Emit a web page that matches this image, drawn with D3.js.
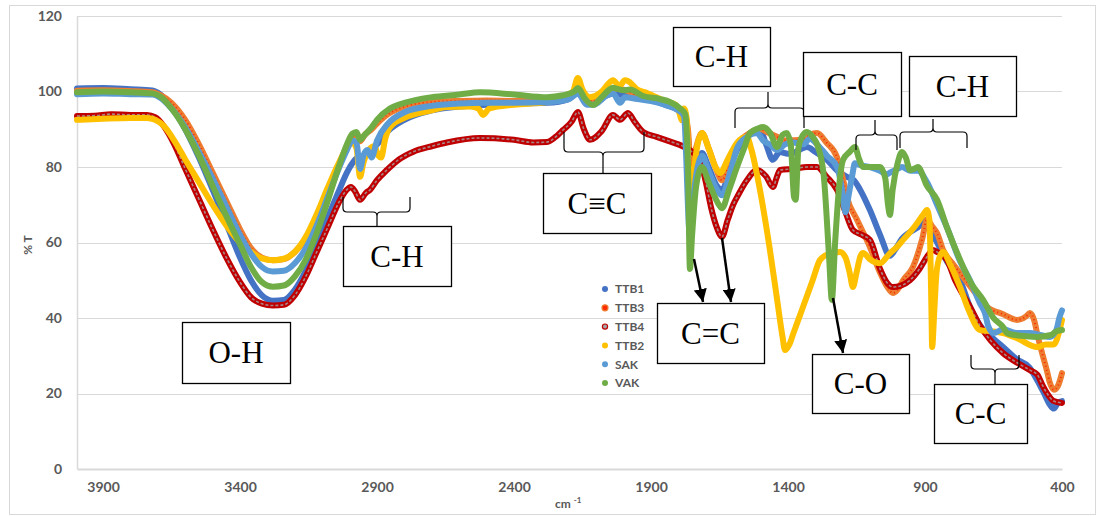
<!DOCTYPE html>
<html lang="en">
<head>
<meta charset="UTF-8">
<title>FTIR spectra</title>
<script src="https://d3js.org/d3.v7.min.js"></script>
<style>
body, html { margin: 0; padding: 0; background: #fff; overflow: hidden; }
svg { display: block; }
.tick text { font-family: Lato, "Open Sans", sans-serif; font-weight: 700; font-size: 14px; fill: #595959; }
.legend text { font-family: Lato, "Open Sans", sans-serif; font-weight: 700; font-size: 12px; fill: #595959; }
.title { font-family: Lato, "Open Sans", sans-serif; font-weight: 700; font-size: 12px; fill: #595959; }
.note text { font-family: "Liberation Serif", "DejaVu Serif", serif; font-size: 31px; fill: #000; }
</style>
</head>
<body>
<svg width="1105" height="516">
  <defs>
    <marker id="arrowhead" viewBox="0 0 10 10" refX="10" refY="5" markerWidth="13" markerHeight="13" markerUnits="userSpaceOnUse" orient="auto">
      <path d="M 0 0 L 10 5 L 0 10 z" fill="#000"/>
    </marker>
  </defs>
</svg>
<script>
// [wavenumber cm-1, %T]
const ttb1 = [
  [3995,100.8],[3900,100.9],[3800,100.6],[3720,100.3],[3690,99.2],[3650,96],[3600,90],[3550,82.5],[3500,74],[3450,65],
  [3400,56],[3360,50],[3320,46],[3280,44.6],[3240,44.8],[3200,47.5],[3160,52.5],[3120,59],[3080,66.5],[3040,73.5],
  [3010,78.5],[2990,81],[2970,82.5],[2962,80],[2950,83],[2930,84],[2900,86],[2860,89.5],[2800,92.5],[2700,95],
  [2600,96],[2500,96.5],[2400,96.8],[2280,97],[2200,98],[2167,99.5],[2134,97.5],[2110,97],[2060,99],[2039,99.5],
  [2000,99],[1950,98.5],[1900,97.8],[1850,96.5],[1800,95],[1780,93.5],[1765,88],[1755,78],[1735,80],[1714,83.7],
  [1690,80],[1660,75],[1641,73.9],[1610,80],[1586,84.5],[1564,87.2],[1530,89],[1502,89.8],[1480,86],[1455,81.9],
  [1430,84],[1400,83.5],[1382,83.7],[1331,85.3],[1300,84],[1258,81.9],[1220,79],[1185,77.4],[1160,76.5],[1137,74],
  [1101,68.6],[1064,62],[1028,56.5],[1010,58],[984,61],[960,62.5],[926,64],[893,66],[870,62],[856,60],
  [820,55],[772,50],[736,43],[688,37],[650,34.5],[615,32.3],[564,29],[520,27],[491,23.6],[465,20],
  [444,17],[430,16],[415,17.5],[400,18]
];
const ttb3 = [
  [3995,100.2],[3900,100.3],[3800,100.1],[3720,99.8],[3690,99],[3650,97],[3600,92.5],[3550,86],[3500,78.5],[3450,71],
  [3400,63.5],[3360,58.5],[3320,56],[3280,55.3],[3240,55.6],[3200,57.5],[3160,61],[3120,66.5],[3080,73.5],[3040,80.5],
  [3010,85.5],[2990,88],[2970,88.5],[2962,86.8],[2945,88.5],[2920,90],[2900,91.5],[2860,94],[2800,96],[2700,97.2],
  [2600,97.5],[2500,97.6],[2400,97.5],[2280,97.6],[2200,98.5],[2167,100.5],[2134,97.8],[2110,97.5],[2060,100],[2039,100.8],
  [2000,100.5],[1950,99],[1900,98],[1850,97],[1800,95.5],[1780,94.5],[1765,90],[1755,80],[1740,84],[1714,89],
  [1690,85],[1660,79],[1641,76.5],[1610,82],[1586,86],[1550,88.5],[1500,90],[1470,89],[1440,88],[1411,87],
  [1345,87.2],[1320,88.5],[1294,89],[1260,86.5],[1221,82.6],[1200,77],[1185,72],[1148,66],[1101,58.8],[1064,52],
  [1040,48.5],[1017,46.6],[1000,47.5],[980,50],[944,53.5],[910,61],[893,66],[871,64],[856,62.5],[834,58],
  [800,54.5],[772,51.9],[720,47],[674,43],[615,41],[564,39.5],[530,40.5],[517,41.3],[500,39],[491,36],
  [470,30],[455,26],[444,22.8],[430,21],[415,22],[400,25.4]
];
const ttb4 = [
  [3995,93.5],[3930,93.6],[3870,94],[3800,93.8],[3740,93.8],[3710,93.2],[3680,91],[3640,86],[3600,79.5],[3550,71.5],
  [3500,63.5],[3450,56],[3400,49.5],[3360,45.5],[3320,43.8],[3280,43.3],[3240,43.5],[3200,46],[3160,51],[3120,57.5],
  [3080,64],[3040,70.5],[3010,74],[2995,74.7],[2980,73.5],[2962,71.3],[2940,73.2],[2926,73.9],[2900,76.5],[2864,79.2],
  [2820,82],[2769,84],[2700,85.5],[2645,86.5],[2524,87.7],[2400,87.2],[2330,86.5],[2280,86.6],[2240,88.5],[2221,89.8],
  [2190,92],[2167,94.6],[2145,90],[2123,87.2],[2080,89.5],[2039,93.8],[2013,92.5],[1984,94.3],[1960,92],[1929,89.3],
  [1880,88],[1840,87],[1800,86],[1770,85],[1750,84],[1721,81.9],[1700,76],[1680,69],[1660,64],[1641,61.5],
  [1620,66],[1600,70],[1586,72],[1550,76.5],[1513,79.2],[1480,77.5],[1455,74.7],[1440,77.5],[1429,79.2],[1380,79.5],
  [1330,80],[1294,80],[1260,77.5],[1221,73.9],[1190,68],[1163,63.3],[1130,62],[1101,60.7],[1064,53],[1040,49.5],
  [1017,48.2],[990,48.5],[955,50],[920,53],[890,56.5],[871,58],[856,57.5],[820,55.4],[790,50],[760,46],
  [736,43],[700,38],[660,34],[615,30.7],[560,28],[517,26.2],[490,25],[470,22],[455,20.1],[430,18],[400,17.5]
];
const ttb2 = [
  [3995,92.5],[3900,92.8],[3800,93],[3740,93],[3710,92.5],[3680,91],[3640,87],[3600,82],[3550,76],[3500,70],
  [3450,64.5],[3400,60],[3360,57.5],[3320,55.8],[3280,55.3],[3240,55.7],[3200,57.5],[3160,61.5],[3120,67.5],[3080,74.5],
  [3040,81],[3010,85],[2990,86.5],[2975,85],[2962,77.4],[2950,81],[2930,84.5],[2910,85.5],[2895,83],[2885,82.5],
  [2870,87.5],[2853,90.5],[2800,93],[2700,95],[2645,95.9],[2560,96],[2530,95.5],[2513,93.8],[2490,95.5],[2400,96.5],
  [2280,97.2],[2210,99],[2185,100],[2167,103.6],[2150,100.5],[2123,98.5],[2080,100],[2050,102.5],[2039,103],[2015,101.5],
  [1995,103],[1984,102.8],[1950,100.5],[1915,99.6],[1850,97.5],[1810,96.5],[1795,94],[1788,92.4],[1780,95.5],[1770,93],
  [1758,68],[1745,78],[1730,86],[1714,89],[1690,85],[1665,80],[1648,78.4],[1620,82],[1586,86.4],[1550,88],
  [1535,85],[1500,73],[1466,58],[1440,45],[1420,35],[1411,31.5],[1395,33],[1380,36],[1345,43],[1310,50],
  [1283,55.4],[1250,57],[1210,57.5],[1190,56],[1175,52],[1163,48.2],[1150,52],[1135,56.5],[1126,57.2],[1100,55.5],
  [1064,54.5],[1030,57],[1000,59],[980,60.7],[940,64],[905,67.5],[893,68.6],[884,66],[876,40],[874,32.3],
  [866,42],[858,52],[845,56.5],[834,57.5],[810,54.5],[772,48.2],[740,42],[699,36.8],[660,36.5],[615,36],
  [560,34.5],[491,32.3],[460,33],[430,33],[410,36.5],[400,39.5]
];
const sak = [
  [3995,99.3],[3900,99.5],[3800,99.3],[3720,99.2],[3690,98.3],[3650,95.5],[3600,90.5],[3550,84],[3500,77],[3450,69.5],
  [3400,62],[3360,57],[3320,53.5],[3280,52.3],[3240,52.5],[3200,54.5],[3160,58.5],[3120,64.5],[3080,72],[3040,79.5],
  [3010,84.5],[2990,87],[2975,86.5],[2962,79.5],[2950,83],[2935,84.5],[2920,82.5],[2900,87],[2860,91.5],[2800,94.5],
  [2700,96.2],[2600,96.8],[2500,97],[2400,97],[2280,97.2],[2200,98],[2167,99.5],[2134,96.5],[2110,96.5],[2060,99],
  [2039,99.5],[2013,97],[1995,98.5],[1950,98],[1900,97.5],[1850,96.5],[1800,95],[1780,93.5],[1758,62],[1745,72],
  [1730,80],[1714,83],[1690,79],[1660,74],[1641,72.5],[1610,79],[1586,85],[1550,88],[1513,89],[1491,87],
  [1466,86],[1440,84.5],[1411,86],[1382,86.5],[1345,86],[1320,87.5],[1294,86],[1258,83],[1221,80],[1205,75],
  [1190,68],[1180,72],[1165,78],[1156,81],[1137,80.5],[1101,80],[1064,79],[1040,78],[1028,78.5],[1000,79.5],
  [984,80],[955,79],[926,79],[893,76],[856,70],[820,64],[772,55],[736,50],[700,44],[680,41],
  [670,38],[650,36],[615,37],[564,36],[517,36],[480,35.5],[444,35],[420,37],[410,40],[400,42]
];
const vak = [
  [3995,99.8],[3900,100],[3800,99.8],[3720,99.5],[3690,98.6],[3650,95.5],[3600,90],[3550,83],[3500,75],[3450,67],
  [3400,59.5],[3360,53.5],[3320,49.5],[3280,48.3],[3240,48.6],[3200,51],[3160,55.5],[3120,62.5],[3080,71],[3040,80],
  [3010,86],[2990,88.8],[2975,89.3],[2962,87.2],[2945,88.5],[2920,90.5],[2900,92.5],[2853,95.5],[2800,97],[2700,98.5],
  [2600,99.2],[2524,99.8],[2400,99.2],[2280,98.5],[2221,99],[2180,100],[2167,100.9],[2140,98],[2112,96.4],[2080,98.5],
  [2039,101],[2000,100.3],[1977,100.5],[1929,98.8],[1867,98],[1831,97.2],[1794,95.5],[1775,94],[1765,80],[1758,53],
  [1750,62],[1735,75],[1714,80],[1690,76],[1660,71],[1641,69.1],[1615,74],[1586,80],[1560,85],[1539,89],
  [1510,90.2],[1491,90.6],[1465,89],[1440,85.3],[1420,88.5],[1405,89],[1390,86],[1378,72],[1372,71.3],[1362,85],
  [1345,88.5],[1331,89.3],[1310,88],[1294,86],[1270,78],[1250,56],[1240,44.8],[1228,60],[1212,76],[1199,81.9],
  [1175,84],[1156,85.3],[1140,82],[1126,80],[1090,80],[1064,80],[1045,77],[1035,70],[1028,67.3],[1018,74],
  [1000,81],[984,84],[970,82.5],[955,79.2],[940,79.5],[926,80],[893,75],[856,71.3],[820,64],[772,55.4],
  [730,49],[688,44.8],[650,40],[615,37.6],[601,36],[550,35.3],[491,35],[440,35.5],[420,36.5],[400,36.8]
];

const seriesNames = ["TTB1", "TTB3", "TTB4", "TTB2", "SAK", "VAK"];
const seriesData = [ttb1, ttb3, ttb4, ttb2, sak, vak];
const seriesColors = ["#4472C4", "#ED7D31", "#C00000", "#FFC000", "#5B9BD5", "#70AD47"];
const xTicks = [3900, 3400, 2900, 2400, 1900, 1400, 900, 400];
const yTicks = [0, 20, 40, 60, 80, 100, 120];

// annotation boxes, braces and arrows (pixel positions)
const notes = [
  {label: "O-H", x: 182, y: 322, w: 108, h: 61},
  {label: "C-H", x: 343, y: 226, w: 108, h: 60},
  {label: "C≡C", x: 543, y: 173, w: 108, h: 60},
  {label: "C=C", x: 657, y: 303, w: 107, h: 60},
  {label: "C-O", x: 812, y: 354, w: 97, h: 59},
  {label: "C-C", x: 934, y: 384, w: 93, h: 59},
  {label: "C-H", x: 673, y: 27, w: 97, h: 59},
  {label: "C-C", x: 803, y: 52, w: 98, h: 64},
  {label: "C-H", x: 909, y: 56, w: 107, h: 60}
];
const braces = [
  {x1: 343, x2: 410, xc: 377, yEnd: 197, yBar: 212, yTip: 226},
  {x1: 564, x2: 644, xc: 603, yEnd: 132, yBar: 152, yTip: 173},
  {x1: 971, x2: 1019, xc: 995, yEnd: 355, yBar: 369, yTip: 384},
  {x1: 735, x2: 804, xc: 768, yEnd: 128, yBar: 108, yTip: 92},
  {x1: 856, x2: 897, xc: 875, yEnd: 150, yBar: 135, yTip: 120},
  {x1: 900, x2: 967, xc: 933, yEnd: 148, yBar: 132, yTip: 119}
];
const arrows = [
  [694, 259, 703, 302],
  [722, 238, 731, 302],
  [833, 298, 843, 353]
];

const svg = d3.select("svg");
const plotLeft = 77, plotRight = 1062, plotTop = 16, plotBottom = 469;

const x = d3.scaleLinear().domain([3995, 400]).range([plotLeft, plotRight]);
const y = d3.scaleLinear().domain([0, 120]).range([plotBottom, plotTop]);

// chart border
svg.append("rect")
  .attr("x", 9.5).attr("y", 5.5)
  .attr("width", 1086).attr("height", 509)
  .attr("fill", "#fff").attr("stroke", "#d9d9d9");

// gridlines
svg.append("g")
  .selectAll("line")
  .data(yTicks.filter(d => d > 0))
  .join("line")
  .attr("x1", plotLeft).attr("x2", plotRight)
  .attr("y1", d => Math.round(y(d)) + 0.5).attr("y2", d => Math.round(y(d)) + 0.5)
  .attr("stroke", "#d9d9d9").attr("stroke-width", 1);

// y axis
const yAxis = svg.append("g")
  .attr("transform", `translate(${plotLeft},0)`)
  .call(d3.axisLeft(y).tickValues(yTicks).tickSize(0).tickPadding(15));
yAxis.select(".domain").attr("stroke", "#d9d9d9").attr("stroke-width", 1.5);

// x axis
const xAxis = svg.append("g")
  .attr("transform", `translate(0,${plotBottom})`)
  .call(d3.axisBottom(x).tickValues(xTicks).tickFormat(d3.format("d")).tickSize(0).tickPadding(13));
xAxis.select(".domain").attr("stroke", "#d9d9d9").attr("stroke-width", 2);

// axis titles
svg.append("text")
  .attr("class", "title")
  .attr("transform", "translate(32,245) rotate(-90)")
  .attr("text-anchor", "middle")
  .text("% T");

const xt = svg.append("text")
  .attr("class", "title")
  .attr("x", 555).attr("y", 508);
xt.append("tspan").text("cm ");
xt.append("tspan").attr("dy", -5).attr("font-size", 8).text("-1");

// series
const line = d3.line()
  .x(d => x(d[0]))
  .y(d => y(d[1]))
  .curve(d3.curveMonotoneX);

const plot = svg.append("g");
seriesData.forEach((data, i) => {
  plot.append("path")
    .datum(data)
    .attr("fill", "none")
    .attr("stroke", seriesColors[i])
    .attr("stroke-width", 6)
    .attr("stroke-linejoin", "round")
    .attr("stroke-linecap", "round")
    .attr("d", line);
  if (seriesNames[i] === "TTB4") {
    plot.append("path")
      .datum(data)
      .attr("fill", "none")
      .attr("stroke", "#a88686")
      .attr("stroke-width", 1.6)
      .attr("stroke-dasharray", "3 2")
      .attr("d", line);
  }
  if (seriesNames[i] === "TTB3") {
    plot.append("path")
      .datum(data)
      .attr("fill", "none")
      .attr("stroke", "#ff2a00")
      .attr("stroke-width", 2)
      .attr("stroke-dasharray", "1 3")
      .attr("d", line);
  }
});

// legend
const legend = svg.append("g").attr("class", "legend");
seriesNames.forEach((name, i) => {
  const ly = 289 + i * 18.8;
  legend.append("circle")
    .attr("cx", 605).attr("cy", ly)
    .attr("r", name === "TTB4" ? 2.6 : 3)
    .attr("fill", name === "TTB4" ? "#a5a5a5" : (name === "TTB3" ? "#ff2a00" : seriesColors[i]))
    .attr("stroke", name === "TTB4" ? "#C00000" : (name === "TTB3" ? "#ED7D31" : "none"))
    .attr("stroke-width", 1.2);
  legend.append("text")
    .attr("x", 615).attr("y", ly)
    .attr("dy", "0.36em")
    .text(name);
});

// braces
const ann = svg.append("g").attr("class", "note");
braces.forEach(b => {
  const d = Math.sign(b.yTip - b.yBar), r = 4;
  const p = `M${b.x1},${b.yEnd} L${b.x1},${b.yBar - d * r} Q${b.x1},${b.yBar} ${b.x1 + r},${b.yBar}`
    + ` L${b.xc - r},${b.yBar} Q${b.xc},${b.yBar} ${b.xc},${b.yBar + d * r} L${b.xc},${b.yTip}`
    + ` M${b.xc},${b.yBar + d * r} Q${b.xc},${b.yBar} ${b.xc + r},${b.yBar}`
    + ` L${b.x2 - r},${b.yBar} Q${b.x2},${b.yBar} ${b.x2},${b.yBar - d * r} L${b.x2},${b.yEnd}`;
  ann.append("path")
    .attr("d", p)
    .attr("fill", "none")
    .attr("stroke", "#000")
    .attr("stroke-width", 1.2);
});

// arrows
arrows.forEach(a => {
  ann.append("line")
    .attr("x1", a[0]).attr("y1", a[1])
    .attr("x2", a[2]).attr("y2", a[3])
    .attr("stroke", "#000")
    .attr("stroke-width", 2.5)
    .attr("marker-end", "url(#arrowhead)");
});

// label boxes
notes.forEach(n => {
  ann.append("rect")
    .attr("x", n.x + 0.5).attr("y", n.y + 0.5)
    .attr("width", n.w).attr("height", n.h)
    .attr("fill", "#fff")
    .attr("stroke", "#000")
    .attr("stroke-width", 1.3);
  ann.append("text")
    .attr("x", n.x + n.w / 2)
    .attr("y", n.y + n.h / 2)
    .attr("dy", "0.35em")
    .attr("text-anchor", "middle")
    .text(n.label);
});
</script>
</body>
</html>
